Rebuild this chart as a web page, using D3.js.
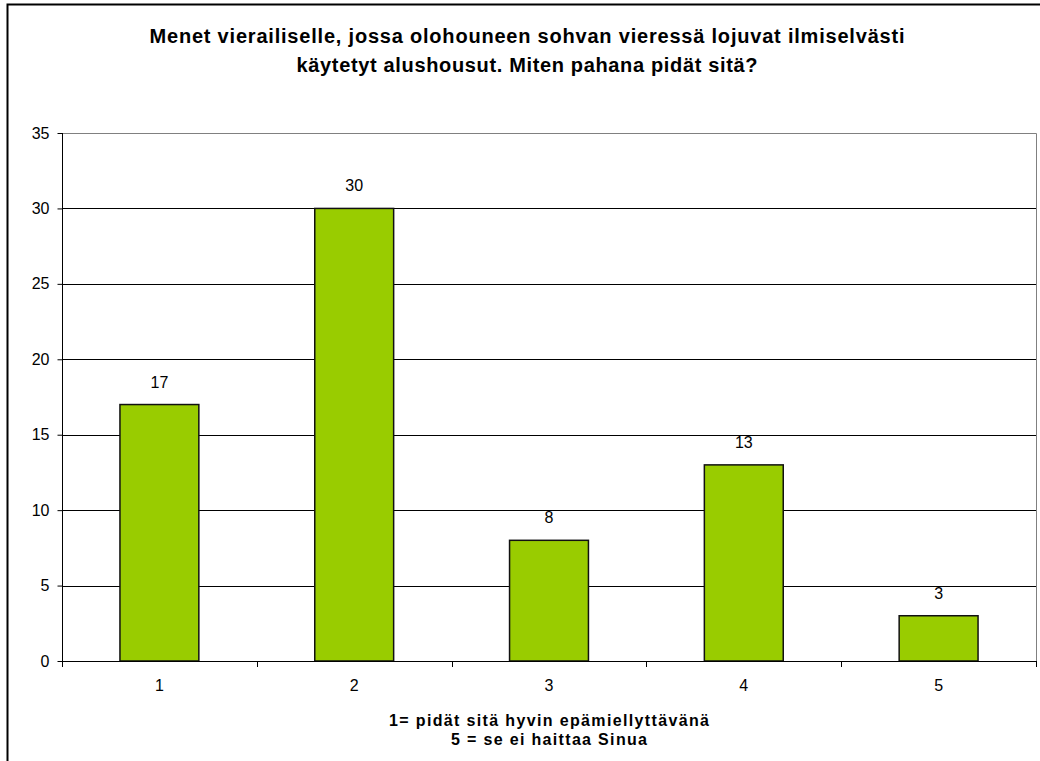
<!DOCTYPE html>
<html>
<head>
<meta charset="utf-8">
<script src="https://cdn.jsdelivr.net/npm/d3@7"></script>
<style>
  body { margin: 0; background: #fff; }
  text { font-family: "Liberation Sans", Arial, sans-serif; fill: #000; }
</style>
</head>
<body>
<svg id="chart"></svg>
<script>
const categories = ["1", "2", "3", "4", "5"]
const values = [17, 30, 8, 13, 3]
const yTicks = [0, 5, 10, 15, 20, 25, 30, 35]
const titleLines = [
  "Menet vierailiselle, jossa olohouneen sohvan vieressä lojuvat ilmiselvästi",
  "käytetyt alushousut. Miten pahana pidät sitä?"
]
const xTitleLines = ["1= pidät sitä hyvin epämiellyttävänä", "5 = se ei haittaa Sinua"]

const width = 1040, height = 761
const plot = {left: 62, right: 1036, top: 133, bottom: 661}

const svg = d3.select('#chart')
  .attr('width', width)
  .attr('height', height)

// outer chart border
svg.append('rect')
  .attr('x', 7.5).attr('y', 4.5)
  .attr('width', width).attr('height', height)
  .attr('fill', 'none')
  .attr('stroke', '#000')
  .attr('stroke-width', 2)

const x = d3.scaleBand()
  .domain(categories)
  .range([plot.left, plot.right])
  .paddingInner(0.595)
  .paddingOuter(0.2975)

const xOuter = d3.scaleBand().domain(categories).range([plot.left, plot.right])

const y = d3.scaleLinear().domain([0, 35]).range([plot.bottom, plot.top])

// plot area border (top + right)
svg.append('path')
  .attr('d', `M${plot.left},${y(35) + 0.5}H${plot.right + 0.5}V${plot.bottom}`)
  .attr('fill', 'none')
  .attr('stroke', '#808080')
  .attr('stroke-width', 1)

// gridlines
svg.append('g')
  .selectAll('line')
  .data(yTicks.filter(d => d > 0 && d < 35))
  .join('line')
  .attr('x1', plot.left).attr('x2', plot.right)
  .attr('y1', d => Math.round(y(d)) + 0.5)
  .attr('y2', d => Math.round(y(d)) + 0.5)
  .attr('stroke', '#000')

// bars
svg.append('g')
  .selectAll('rect')
  .data(values)
  .join('rect')
  .attr('x', (d, i) => x(categories[i]))
  .attr('y', d => y(d))
  .attr('width', x.bandwidth())
  .attr('height', d => y(0) - y(d))
  .attr('fill', '#99CC00')
  .attr('stroke', '#111')
  .attr('stroke-width', 1.5)

// value labels
svg.append('g')
  .selectAll('text')
  .data(values)
  .join('text')
  .attr('x', (d, i) => x(categories[i]) + x.bandwidth() / 2)
  .attr('y', d => y(d) - 17)
  .attr('text-anchor', 'middle')
  .style('font-size', '16px')
  .text(d => d)

// y axis
const yAxis = svg.append('g')
  .attr('transform', `translate(${plot.left + 0.5},0)`)
  .call(d3.axisLeft(y).tickValues(yTicks).tickSize(5).tickPadding(8))
yAxis.attr('font-size', null).attr('font-family', null)
yAxis.select('.domain').attr('stroke', '#000').attr('d', `M0,${y(35)}V${y(0)}`)
yAxis.selectAll('.tick line').attr('stroke', '#000')
yAxis.selectAll('text')
  .style('font-size', '16px')
  .style('font-family', '"Liberation Sans", Arial, sans-serif')
  .attr('fill', '#000')

// x axis baseline + ticks at band boundaries
const xAxisG = svg.append('g')
xAxisG.append('line')
  .attr('x1', plot.left).attr('x2', plot.right + 0.5)
  .attr('y1', y(0) + 0.5).attr('y2', y(0) + 0.5)
  .attr('stroke', '#000')
const bounds = categories.map(d => xOuter(d)).concat([plot.right])
xAxisG.selectAll('line.xtick')
  .data(bounds)
  .join('line')
  .attr('class', 'xtick')
  .attr('x1', d => Math.round(d) + 0.5)
  .attr('x2', d => Math.round(d) + 0.5)
  .attr('y1', y(0)).attr('y2', y(0) + 6)
  .attr('stroke', '#000')
xAxisG.selectAll('text')
  .data(categories)
  .join('text')
  .attr('x', d => xOuter(d) + xOuter.bandwidth() / 2)
  .attr('y', 691)
  .attr('text-anchor', 'middle')
  .style('font-size', '16px')
  .text(d => d)

// title
const titleWidths = [755, 461]
svg.append('g')
  .selectAll('text')
  .data(titleLines)
  .join('text')
  .attr('x', 527)
  .attr('y', (d, i) => 43 + i * 29)
  .attr('text-anchor', 'middle')
  .attr('textLength', (d, i) => titleWidths[i])
  .attr('lengthAdjust', 'spacing')
  .style('font-size', '20px')
  .style('font-weight', 'bold')
  .text(d => d)

// x axis title
const xTitleWidths = [320, 196]
svg.append('g')
  .selectAll('text')
  .data(xTitleLines)
  .join('text')
  .attr('x', 549)
  .attr('y', (d, i) => 726 + i * 19)
  .attr('text-anchor', 'middle')
  .attr('textLength', (d, i) => xTitleWidths[i])
  .attr('lengthAdjust', 'spacing')
  .style('font-size', '16px')
  .style('font-weight', 'bold')
  .text(d => d)
</script>
</body>
</html>
